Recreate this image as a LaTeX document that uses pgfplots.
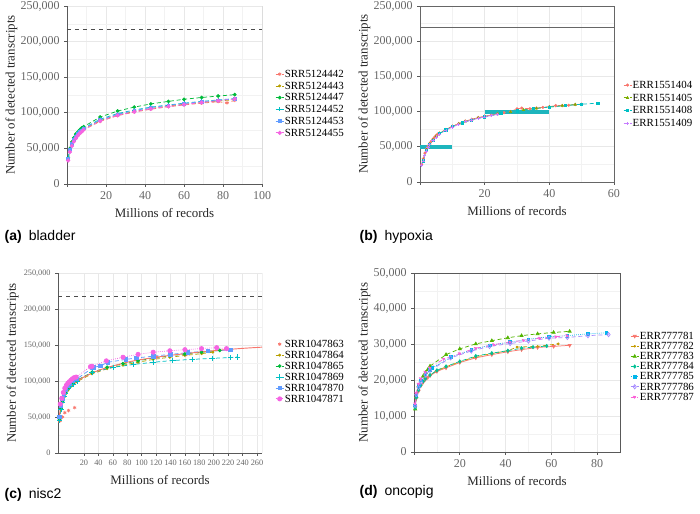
\documentclass[border=0pt]{standalone}
\usepackage{fontspec}
\setmainfont{Liberation Serif}
\newfontfamily\capfont{Liberation Sans}
\usepackage{pgfplots}
\pgfplotsset{compat=1.18}
\definecolor{sa}{HTML}{F8766D}
\definecolor{sb}{HTML}{B79F00}
\definecolor{sc}{HTML}{00BA38}
\definecolor{sd}{HTML}{00BFC4}
\definecolor{se}{HTML}{619CFF}
\definecolor{sf}{HTML}{F564E3}
\definecolor{fa}{HTML}{F8766D}
\definecolor{fb}{HTML}{7CAE00}
\definecolor{fc}{HTML}{00BFC4}
\definecolor{fd}{HTML}{C77CFF}
\definecolor{ga}{HTML}{F8766D}
\definecolor{gb}{HTML}{C49A00}
\definecolor{gc}{HTML}{53B400}
\definecolor{gd}{HTML}{00C094}
\definecolor{ge}{HTML}{00B6EB}
\definecolor{gf}{HTML}{A58AFF}
\definecolor{gg}{HTML}{FB61D7}
\definecolor{barc}{HTML}{1EB5BD}
\pgfplotsset{
  legend image code/.code={\draw[mark repeat=2,mark phase=2,#1] plot coordinates {(0pt,0pt) (3pt,0pt) (6pt,0pt)};},
  panel/.style={
    scale only axis,
    grid=both,
    major grid style={draw=black!9, line width=0.5pt},
    minor grid style={draw=black!5, line width=0.4pt},
    axis line style={draw=black!65, line width=0.7pt},
    tick style={draw=black!65, line width=0.5pt},
    tick align=outside, tick pos=left,
    major tick length=2pt, minor tick length=0pt,
    ymin=0, ymax=250000, ytick={0,50000,...,250000}, minor y tick num=1,
    minor x tick num=1,
    scaled y ticks=false,
    /pgf/number format/assume math mode=true,
    yticklabel style={/pgf/number format/fixed,/pgf/number format/1000 sep={,}},
    ticklabel style={font=\fontsize{9}{9}\selectfont, text=black!60},
    xlabel={Millions of records}, ylabel={Number of detected transcripts},
    label style={font=\fontsize{9.7}{10}\selectfont, text=black!85},
    ylabel shift=-4.5pt,
    legend cell align=left,
    legend style={draw=none, fill=none, anchor=north west, font=\fontsize{8.2}{8.2}\selectfont, inner sep=0pt,
      nodes={inner sep=0.6pt, text height=5.5pt, text depth=0.6pt}},
    every axis plot/.append style={line width=0.55pt, densely dashed, mark options={solid}},
  },
}
\begin{document}
\begin{tikzpicture}
\useasboundingbox (0,0) rectangle (525pt,385.5pt);
% (a) bladder
\begin{axis}[panel, at={(50.25pt,247.5pt)}, anchor=south west, width=146.25pt, height=133.5pt,
  xmin=0, xmax=100, xtick={0,20,...,100}, xticklabels={,20,40,60,80,100},
  axis x line*=bottom, axis y line*=left,
  legend style={at={(1.067,0.646)}, row sep=1.5pt}]
\addplot[black!70, dashed, line width=0.6pt, forget plot] coordinates {(0,217500)(100,217500)};
\addplot[black!45, solid, line width=0.5pt, forget plot] coordinates {(100,0)(100,250000)};
\addplot[sa, mark=asterisk, mark size=1.3pt] coordinates {(0.6,34000)(1.5,46000)(2.5,54000)(3.5,60000)(4.5,64000)(5.5,68000)(6.5,71000)(7.5,73500)(8.5,76000)(17,88000)(26,96000)(34.5,101000)(43,105000)(52,108500)(60,111000)(69,113500)(77.5,115500)(82,114000)(86,117500)};
\addplot[sb, mark=*, mark size=0.8pt] coordinates {(0.6,35000)(1.5,47000)(2.5,55000)(3.5,61000)(4.5,65000)(5.5,69000)(6.5,72000)(7.5,74500)(8.5,77000)(17,89000)(26,97000)(34.5,102000)(43,106000)(52,109500)(60,112000)(69,114500)(77.5,116500)(86,118500)};
\addplot[sc, mark=*, mark size=1.1pt] coordinates {(0.6,37000)(1.5,50000)(2.5,59000)(3.5,65000)(4.5,70000)(5.5,73000)(6.5,76000)(7.5,78500)(8.5,80500)(17,94000)(26,102500)(34.5,108000)(43,112500)(52,116000)(60,119000)(69,121500)(77.5,123500)(86,125500)};
\addplot[sd, mark=+, mark size=1.5pt] coordinates {(0.6,36500)(1.5,49000)(2.5,57500)(3.5,63000)(4.5,67500)(5.5,71000)(6.5,74000)(7.5,76500)(8.5,78500)(17,91000)(26,99000)(34.5,104000)(43,108000)(52,111000)(60,113500)(69,116000)(77.5,118000)(86,120000)};
\addplot[se, mark=square*, mark size=1pt] coordinates {(0.6,36000)(1.5,48500)(2.5,56500)(3.5,62000)(4.5,66500)(5.5,70000)(6.5,73000)(7.5,75500)(8.5,78000)(17,90000)(26,98000)(34.5,103000)(43,107500)(52,110500)(60,113000)(69,115500)(77.5,117500)(86,119500)};
\addplot[sf, mark=*, mark size=1.3pt] coordinates {(0.6,33000)(1.5,45000)(2.5,53500)(3.5,59500)(4.5,64000)(5.5,68000)(6.5,71000)(7.5,73500)(8.5,76000)(17,88500)(26,96500)(34.5,101500)(43,105500)(52,109000)(60,111500)(69,114500)(77.5,117000)(86,119500)};
\legend{SRR5124442,SRR5124443,SRR5124447,SRR5124452,SRR5124453,SRR5124455}
\end{axis}
% (b) hypoxia
\begin{axis}[panel, at={(315pt,249pt)}, anchor=south west, width=145.5pt, height=132pt,
  xmin=0, xmax=60, xtick={0,20,40,60}, xticklabels={,20,40,60},
  axis line style={draw=black!60, line width=0.6pt},
  legend style={at={(1.046,0.58)}, row sep=2.3pt}]
\addplot[black!60, solid, line width=0.6pt, forget plot] coordinates {(0,220000)(60,220000)};
\addplot[fa, mark=*, mark size=0.9pt] coordinates {(0.5,25000)(1,33000)(1.5,41000)(2,47000)(2.5,51000)(3,55000)(3.5,58000)(4,61000)(4.5,63500)(5,66000)(5.5,68000)(6,69500)(8,74500)(10,79000)(12,83000)(14,86500)(16,89000)(18,91500)(20,93500)(22,95000)(24,97000)(26,98500)(28,100000)(30,104000)(31.5,105000)(34,104000)(36,105000)(38,106000)(40,107000)(42,108500)(44,108500)(46,109000)(48,110000)(50,110500)};
\addplot[fb, mark=triangle*, mark size=0.9pt] coordinates {(1,31000)(2,46000)(3,54000)(4,60000)(5,65000)(6,69000)(8,74000)(10,79000)(12,82500)(14,86000)(16,88500)(18,91000)(20,93000)(24,96500)(28,99500)(32,102500)(36,104500)(40,106500)(44,108300)(48,110000)};
\addplot[fc, mark=square*, mark size=0.8pt] coordinates {(1,30000)(2,45000)(3,53000)(4,59000)(6,68500)(8,74000)(10,78500)(13,84000)(16,88000)(20,92500)(25,97000)(30,101000)(35,104000)(40,106500)(45,108500)(50,110500)(55,112000)};
\addplot[fd, mark=+, mark size=1.2pt] coordinates {(0.5,24000)(1,30000)(1.5,38000)(2,44000)(2.5,49000)(3,53000)(4,59000)(5,64000)(6,68000)(8,73500)(10,78000)(12,82000)(14,85500)(16,88000)(18,90500)(20,92500)(22,94500)(24,96000)};
\addplot[barc, solid, line width=3pt, forget plot] coordinates {(0,50000)(10,50000)};
\addplot[barc, solid, line width=3pt, forget plot] coordinates {(20,99000)(40,99000)};
\legend{ERR1551404,ERR1551405,ERR1551408,ERR1551409}
\end{axis}
% (c) nisc2
\begin{axis}[panel, at={(43.5pt,45.75pt)}, anchor=south west, width=153pt, height=135pt,
  xmin=0, xmax=270,
  axis x line*=bottom, axis y line*=left,
  xtick={34.4,53.5,72.6,91.7,110.7,129.8,148.9,168.0,187.0,206.1,225.2,244.3,263.4},
  xticklabels={20,40,60,80,100,120,140,160,180,200,220,240,260},
  ticklabel style={font=\fontsize{6.2}{6.2}\selectfont},
  ylabel shift=-3pt,
  legend style={at={(1.064,0.633)}, row sep=0.9pt}]
\addplot[black!70, dashed, line width=0.6pt, forget plot] coordinates {(0,217500)(270,217500)};
\addplot[black!45, solid, line width=0.5pt, forget plot] coordinates {(270,0)(270,250000)};
\addplot[sa, solid, mark=asterisk, mark size=1.3pt, only marks] coordinates {(3,45000)(6,50000)(9,56000)(14,59000)(22,63000)(130,133000)(170,137000)};
\addplot[sb, mark=*, mark size=0.8pt] coordinates {(2,45000)(4,60000)(6,70000)(8,77000)(10,82000)(13,87000)(16,91000)(20,95000)(25,99000)(45,110000)(65,117000)(86,122000)(106,126000)(126,130000)(148,133000)(168,135500)(190,138000)(205,140000)};
\addplot[sc, mark=*, mark size=1.1pt] coordinates {(2,47000)(4,62000)(6,72000)(8,79000)(10,84000)(13,89000)(16,93000)(20,97000)(25,101000)(45,112000)(65,119000)(86,124000)(106,128000)(126,132000)(148,135000)(168,137500)(190,140000)(214,142500)};
\addplot[sd, mark=+, mark size=2pt] coordinates {(2,46000)(4,61000)(6,71000)(8,78000)(10,83000)(13,88000)(16,92000)(20,96000)(25,100000)(45,112000)(73,119000)(100,123000)(126,126000)(152,128500)(178,130000)(204,131500)(228,132500)(238,133500)};
\addplot[se, mark=square*, mark size=1.3pt] coordinates {(2,50000)(4,66000)(6,76000)(8,83000)(10,88000)(13,93000)(16,97000)(20,100000)(25,103000)(47,119000)(56,121000)(66,126000)(90,130000)(104,132000)(126,134500)(149,137000)(172,139500)(198,141500)(228,143000)};
\addplot[sf, densely dotted, mark=*, mark size=1.6pt] coordinates {(3,68000)(5,76000)(7,84000)(9,90000)(11,94000)(13,97000)(15,99000)(17,101000)(19,103000)(21,104500)(24,105500)(43,120000)(45,120500)(64,128000)(86,133000)(106,137000)(126,140000)(148,142000)(168,143500)(190,145000)(210,146300)(223,145000)};
\addplot[sa, solid, line width=0.7pt, forget plot, smooth] coordinates {(0,42000)(5,70000)(10,82000)(20,95000)(30,103000)(45,111000)(60,117000)(80,123000)(100,128000)(130,133000)(160,137000)(200,141500)(240,145000)(270,147000)};
\legend{SRR1047863,SRR1047864,SRR1047865,SRR1047869,SRR1047870,SRR1047871}
\end{axis}
% (d) oncopig
\begin{axis}[panel, at={(310.5pt,46.5pt)}, anchor=south west, width=154.5pt, height=134.25pt,
  xmin=0, xmax=90, xtick={0,20,...,80}, xticklabels={,20,40,60,80},
  ymax=50000, ytick={0,10000,...,50000},
  legend style={at={(1.049,0.676)}, row sep=0.3pt}]
\addplot[ga, solid, mark=triangle*, mark options={rotate=180}, mark size=1.3pt] coordinates {(0.5,12500)(1,15000)(2,17000)(3,18500)(4,19500)(5,20300)(6,20800)(7,21300)(10,22500)(14,23500)(20,25000)(27,26300)(34,27200)(41,28000)(47,28600)(54,29200)(61,29500)(68,29800)};
\addplot[gb, mark=*, mark size=0.7pt] coordinates {(0.5,13000)(1,15500)(2,17500)(3,18800)(4,19800)(5,20500)(7,21500)(10,22700)(14,23800)(20,25200)(27,26600)(34,27500)(41,28300)(45,29300)(54,29500)(63,30200)};
\addplot[gc, mark=triangle*, mark size=1.3pt] coordinates {(0.5,12000)(1,15500)(2,18500)(3,20000)(4,21200)(5,22200)(6,23000)(7,24000)(14,27200)(20,28800)(27,30200)(34,31100)(41,31900)(47,32500)(54,33000)(61,33400)(68,33700)};
\addplot[gd, mark=diamond*, mark size=1.2pt] coordinates {(0.5,12300)(1,15200)(2,17300)(3,18700)(4,19700)(5,20500)(7,21500)(10,22800)(14,23900)(20,25300)(27,26800)(34,27600)(41,28300)(47,29000)(52,29300)(58,29600)};
\addplot[ge, densely dotted, mark=square*, mark size=1pt] coordinates {(0.5,13000)(1,16000)(2,18500)(3,20000)(5,21800)(7,23000)(8,23500)(16,26500)(25,28500)(33,29800)(42,30700)(50,31500)(59,32200)(67,32500)(76,33000)(84,33300)};
\addplot[gf, mark=diamond, mark size=1.6pt] coordinates {(0.5,13000)(1,16000)(2,18000)(3,19500)(5,21500)(7,22800)(16,26300)(25,28200)(33,29500)(42,30300)(50,31000)(59,31800)(67,32000)(76,32500)(85,32800)};
\addplot[gg, dashdotted, mark=triangle*, mark options={rotate=180}, mark size=1.2pt] coordinates {(0.5,13500)(1,16500)(2,19000)(3,20500)(5,22300)(7,23500)(13,26000)(20,27500)(27,29000)(35,30000)(42,30700)(48,31200)(55,31800)(62,32200)(67,32500)};
\legend{ERR777781,ERR777782,ERR777783,ERR777784,ERR777785,ERR777786,ERR777787}
\end{axis}
\node[anchor=west, font=\capfont\fontsize{10.5}{12}\selectfont] at (0pt,207.75pt) {\textbf{(a)}\hspace{0.5em}bladder};
\node[anchor=west, font=\capfont\fontsize{10.5}{12}\selectfont] at (266.25pt,207.75pt) {\textbf{(b)}\hspace{0.5em}hypoxia};
\node[anchor=west, font=\capfont\fontsize{10.5}{12}\selectfont] at (0pt,14.25pt) {\textbf{(c)}\hspace{0.5em}nisc2};
\node[anchor=west, font=\capfont\fontsize{10.5}{12}\selectfont] at (266.25pt,16.5pt) {\textbf{(d)}\hspace{0.5em}oncopig};
\end{tikzpicture}
\end{document}
